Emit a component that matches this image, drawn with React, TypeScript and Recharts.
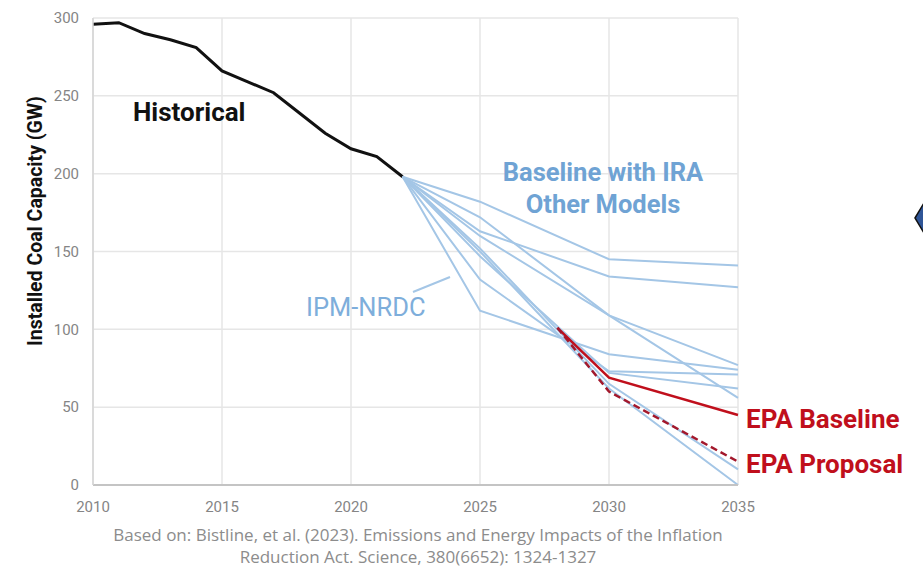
import React from 'react';
import { LineChart, Line, XAxis, YAxis, CartesianGrid } from 'recharts';

// Historical installed coal capacity (GW)
const histYears = [2010, 2011, 2012, 2013, 2014, 2015, 2016, 2017, 2018, 2019, 2020, 2021, 2022];
const histValues = [296, 297, 290, 286, 281, 266, 259, 252, 239, 226, 216, 211, 198];

// Baseline with IRA - other models
const modelYears = [2022, 2025, 2030, 2035];
const model1 = [198, 182, 145, 141];
const model2 = [198, 163, 134, 127];
const model3 = [198, 160, 109, 77];
const model4 = [198, 172, 109, 56];
const ipmNrdc = [198, 112, 84, 74];
const model6 = [198, 132, 73, 71];
const model7 = [198, 147, 72, 62];
const model8 = [198, 152, 65, 10];
const model9 = [198, 150, 62, 0];

// EPA runs
const epaYears = [2028, 2030, 2035];
const epaBaseline = [101, 69, 45];
const epaProposal = [101, 60, 15];

const xTicks = [2010, 2015, 2020, 2025, 2030, 2035];
const yTicks = [0, 50, 100, 150, 200, 250, 300];

const toSeries = (xs: number[], ys: number[]) => xs.map((year, i) => ({ year, v: ys[i] }));

const blueSeries = [model1, model2, model3, model4, ipmNrdc, model6, model7, model8, model9].map(s =>
  toSeries(modelYears, s)
);

const BLUE = '#a4c6e6';
const RED = '#c00f1c';

export default function App() {
  const tickStyle = { fill: '#858585', fontSize: 15, fontFamily: 'Roboto' };

  return (
    <div style={{ position: 'absolute', left: 0, top: 0, width: 923, height: 567, background: '#fff' }}>
      <LineChart
        width={923}
        height={567}
        margin={{ top: 18, right: 185, bottom: 52, left: 33 }}
      >
        <CartesianGrid stroke="#e6e6e6" strokeWidth={1.5} />
        <XAxis
          type="number"
          dataKey="year"
          domain={[2010, 2035]}
          ticks={xTicks}
          height={30}
          tickLine={false}
          tickSize={0}
          tickMargin={16}
          axisLine={{ stroke: '#c4c4c4', strokeWidth: 2 }}
          tick={tickStyle}
        />
        <YAxis
          type="number"
          domain={[0, 300]}
          ticks={yTicks}
          width={60}
          tickLine={false}
          tickSize={0}
          tickMargin={14}
          axisLine={{ stroke: '#d4d4d4', strokeWidth: 1.5 }}
          tick={tickStyle}
        />
        <Line
          data={toSeries(histYears, histValues)}
          dataKey="v"
          stroke="#111"
          strokeWidth={3}
          dot={false}
          isAnimationActive={false}
        />
        {blueSeries.map((d, i) => (
          <Line
            key={i}
            data={d}
            dataKey="v"
            stroke={BLUE}
            strokeWidth={2}
            dot={false}
            isAnimationActive={false}
          />
        ))}
        <Line
          data={toSeries(epaYears, epaBaseline)}
          dataKey="v"
          stroke={RED}
          strokeWidth={2.5}
          dot={false}
          isAnimationActive={false}
        />
        <Line
          data={toSeries(epaYears, epaProposal)}
          dataKey="v"
          stroke="#a3182c"
          strokeWidth={2.5}
          strokeDasharray="7 4"
          dot={false}
          isAnimationActive={false}
        />
      </LineChart>

      {/* annotations */}
      <svg
        width={923}
        height={567}
        style={{ position: 'absolute', left: 0, top: 0, pointerEvents: 'none' }}
      >
        <text
          transform="translate(42 221) rotate(-90)"
          textAnchor="middle"
          fontFamily="Roboto"
          fontWeight="bold"
          fontSize={19.5}
          fill="#111"
        >
          Installed Coal Capacity (GW)
        </text>
        <text x={133} y={121} fontFamily="Roboto" fontWeight="bold" fontSize={26} fill="#111">
          Historical
        </text>
        <text x={603} y={181} textAnchor="middle" fontFamily="Roboto" fontWeight="bold" fontSize={25.5} fill="#6fa3d4">
          Baseline with IRA
        </text>
        <text x={603} y={213} textAnchor="middle" fontFamily="Roboto" fontWeight="bold" fontSize={25.5} fill="#6fa3d4">
          Other Models
        </text>
        <text x={306} y={316} fontFamily="Roboto" fontSize={25.5} fill="#7eaedb">
          IPM-NRDC
        </text>
        <line x1={413} y1={292} x2={450} y2={277} stroke={BLUE} strokeWidth={2} />
        <text x={746} y={428} fontFamily="Roboto" fontWeight="bold" fontSize={26} fill={RED}>
          EPA Baseline
        </text>
        <text x={746} y={473} fontFamily="Roboto" fontWeight="bold" fontSize={26} fill={RED}>
          EPA Proposal
        </text>
        <text x={418} y={541} textAnchor="middle" fontFamily="Open Sans" fontSize={17} fill="#8c8c8c">
          Based on: Bistline, et al. (2023). Emissions and Energy Impacts of the Inflation
        </text>
        <text x={418} y={563} textAnchor="middle" fontFamily="Open Sans" fontSize={17} fill="#8c8c8c">
          Reduction Act. Science, 380(6652): 1324-1327
        </text>
        <polygon points="915,218 924,203 930,203 930,233 924,233" fill="#2f5597" stroke="#111" strokeWidth={1.5} />
      </svg>
    </div>
  );
}
